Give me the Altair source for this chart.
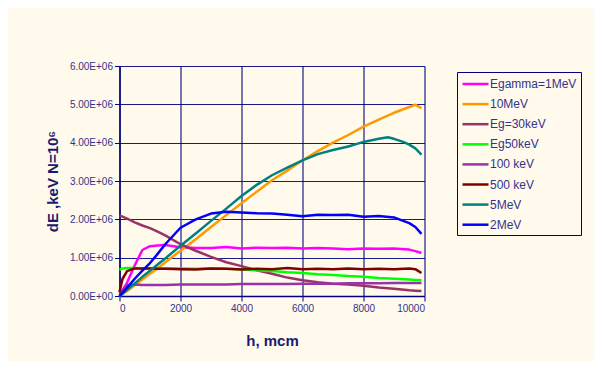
import altair as alt
import pandas as pd

# ---- data (values in units of 1e6 keV) ----
series_names = ["Egamma=1MeV", "10MeV", "Eg=30keV", "Eg50keV", "100 keV", "500 keV", "5MeV", "2MeV"]
series_colors = ["#FF00FF", "#FF9900", "#993366", "#00FF00", "#9933AA", "#800000", "#008080", "#0000FF"]
series_widths = [2.5, 2.5, 2.5, 2.5, 1.0, 2.5, 2.5, 2.5]

x_common = [0, 100, 250, 500, 750, 1000, 1250, 1500, 2000, 2500, 3000, 3500, 4000, 4500,
            5000, 5500, 6000, 6500, 7000, 7500, 8000, 8500, 9000, 9500, 9700, 9900]

x_teal = [0, 100, 250, 500, 750, 1000, 1250, 1500, 2000, 2500, 3000, 3500, 4000, 4500,
          5000, 5500, 6000, 6500, 7000, 7500, 8000, 8500, 8800, 9000, 9300, 9500, 9700, 9900]

y_egamma1 = [0.05, 0.15, 0.35, 0.80, 1.20, 1.30, 1.32, 1.33, 1.27, 1.25, 1.25, 1.28, 1.24, 1.26,
             1.25, 1.26, 1.24, 1.25, 1.24, 1.22, 1.24, 1.23, 1.24, 1.21, 1.17, 1.12]
y_10mev = [0.0, 0.05, 0.13, 0.28, 0.43, 0.58, 0.72, 0.88, 1.18, 1.48, 1.80, 2.11, 2.42, 2.72,
           3.02, 3.27, 3.54, 3.78, 4.00, 4.20, 4.42, 4.60, 4.78, 4.93, 4.99, 4.90]
y_eg30 = [2.10, 2.07, 2.02, 1.92, 1.84, 1.77, 1.68, 1.58, 1.35, 1.18, 1.02, 0.88, 0.78, 0.67,
          0.58, 0.48, 0.41, 0.36, 0.32, 0.30, 0.27, 0.22, 0.19, 0.15, 0.14, 0.13]
y_eg50 = [0.68, 0.72, 0.73, 0.73, 0.72, 0.72, 0.73, 0.72, 0.72, 0.71, 0.72, 0.71, 0.70, 0.67,
          0.65, 0.62, 0.60, 0.57, 0.55, 0.52, 0.50, 0.47, 0.45, 0.43, 0.42, 0.41]
y_100kev = [0.0, 0.15, 0.28, 0.30, 0.29, 0.29, 0.29, 0.29, 0.30, 0.30, 0.30, 0.30, 0.31, 0.31,
            0.31, 0.31, 0.32, 0.32, 0.32, 0.33, 0.33, 0.33, 0.34, 0.34, 0.34, 0.34]
y_500kev = [0.10, 0.45, 0.65, 0.72, 0.72, 0.72, 0.71, 0.71, 0.70, 0.69, 0.72, 0.71, 0.69, 0.71,
            0.70, 0.73, 0.70, 0.71, 0.70, 0.72, 0.70, 0.71, 0.70, 0.72, 0.70, 0.60]
y_5mev = [0.0, 0.06, 0.16, 0.33, 0.50, 0.66, 0.82, 0.98, 1.31, 1.63, 1.96, 2.28, 2.61, 2.90,
          3.15, 3.35, 3.54, 3.70, 3.81, 3.90, 4.02, 4.10, 4.14, 4.10, 4.02, 3.95, 3.85, 3.69]
y_2mev = [0.0, 0.09, 0.22, 0.45, 0.66, 0.86, 1.10, 1.35, 1.78, 2.00, 2.15, 2.20, 2.18, 2.16,
          2.15, 2.12, 2.08, 2.12, 2.11, 2.12, 2.07, 2.09, 2.05, 1.90, 1.80, 1.62]

x_ticks = [0, 2000, 4000, 6000, 8000, 10000]
y_ticks = [0, 1e6, 2e6, 3e6, 4e6, 5e6, 6e6]

series_y = [y_egamma1, y_10mev, y_eg30, y_eg50, y_100kev, y_500kev, y_5mev, y_2mev]
series_x = [x_common, x_common, x_common, x_common, x_common, x_common, x_teal, x_common]

rows = []
for name, xs, ys in zip(series_names, series_x, series_y):
    for i, (xv, yv) in enumerate(zip(xs, ys)):
        rows.append({"series": name, "h": xv, "dE": yv * 1e6, "order": i})
df = pd.DataFrame(rows)

navy = "#000080"
label_col = "#33338C"
title_col = "#1A1A70"
font = "Liberation Sans"

chart = alt.Chart(df).mark_line(strokeJoin="round").encode(
    x=alt.X("h:Q", scale=alt.Scale(domain=[0, 10000], nice=False),
            axis=alt.Axis(values=x_ticks, format="d", title="h, mcm",
                          titleX=152.5, titleY=44, titleBaseline="middle")),
    y=alt.Y("dE:Q", scale=alt.Scale(domain=[0, 6e6], nice=False),
            axis=alt.Axis(values=y_ticks, title="dE ,keV N=10⁶",
                          labelExpr="datum.value == 0 ? '0.00E+00' : format(datum.value/1000000, '.2f') + 'E+06'",
                          titleX=-67, titleY=115, titleBaseline="middle", titleAlign="center",
                          titleAngle=-90)),
    color=alt.Color("series:N", scale=alt.Scale(domain=series_names, range=series_colors),
                    legend=alt.Legend(title=None)),
    strokeWidth=alt.StrokeWidth("series:N", scale=alt.Scale(domain=series_names, range=series_widths),
                                legend=alt.Legend(title=None)),
    order="order:Q",
).properties(
    width=305,
    height=230,
    autosize=alt.AutoSizeParams(type="none"),
    padding={"left": 111.5, "top": 58, "right": 169.5, "bottom": 65},
    background="#FFFAEB",
).configure_view(
    stroke=None, fill="#FFFAEB"
).configure_axis(
    grid=True,
    gridColor=navy,
    gridWidth=1.2,
    gridOpacity=0.9,
    domainColor=navy,
    domainWidth=1.5,
    tickColor=navy,
    tickSize=5,
    labelColor=label_col,
    labelFont=font,
    labelFontSize=10,
    labelPadding=2,
    titleColor=title_col,
    titleFont=font,
    titleFontSize=15,
    titleFontWeight="bold",
).configure_legend(
    orient="none",
    legendX=337.5,
    legendY=6,
    strokeColor=navy,
    padding=4,
    symbolType="M-1,0H3",
    symbolSize=169,
    symbolStrokeWidth=2.5,
    symbolFillColor="transparent",
    labelFont=font,
    labelFontSize=12,
    labelColor=label_col,
    labelOffset=13,
    rowPadding=6.1,
    labelLimit=200,
)

chart.save("out.html", embed_options={"renderer": "svg", "actions": False})
